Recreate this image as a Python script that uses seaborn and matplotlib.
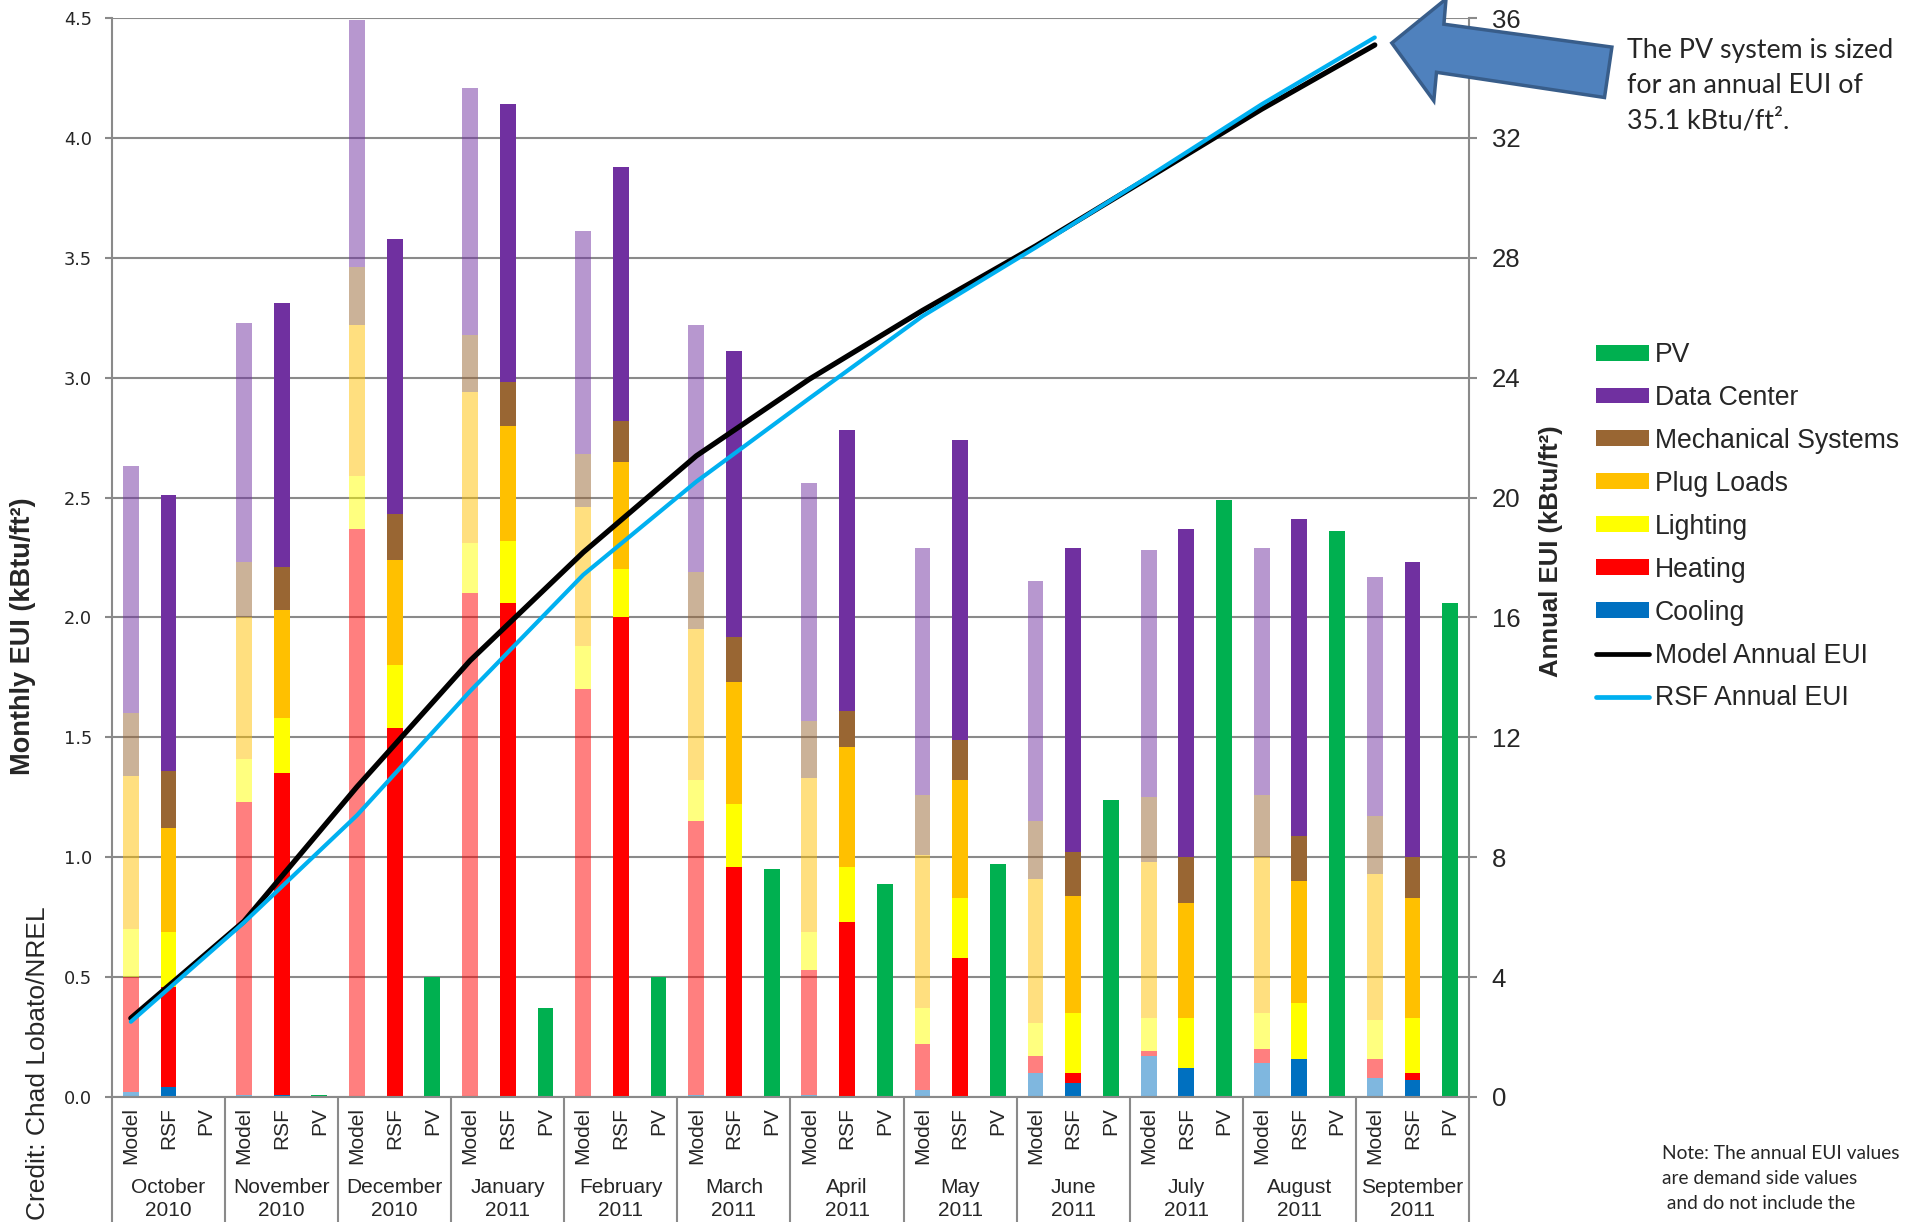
import numpy as np
import pandas as pd
import matplotlib
matplotlib.use("Agg")
import matplotlib.pyplot as plt
from matplotlib.patches import Patch, Polygon
from matplotlib.lines import Line2D
from matplotlib.transforms import blended_transform_factory
import seaborn as sns

# ---------------------------------------------------------------- data
months = ["October", "November", "December", "January", "February", "March",
          "April", "May", "June", "July", "August", "September"]
years = ["2010", "2010", "2010", "2011", "2011", "2011",
         "2011", "2011", "2011", "2011", "2011", "2011"]
kinds = ["Model", "RSF", "PV"]

# monthly end-use intensity, kBtu/ft² (energy model)
model_cooling = [0.02, 0.01, 0.00, 0.00, 0.00, 0.01, 0.01, 0.03, 0.10, 0.17, 0.14, 0.08]
model_heating = [0.48, 1.22, 2.37, 2.10, 1.70, 1.14, 0.52, 0.19, 0.07, 0.02, 0.06, 0.08]
model_lighting = [0.20, 0.18, 0.22, 0.21, 0.18, 0.17, 0.16, 0.15, 0.14, 0.14, 0.15, 0.16]
model_plug = [0.64, 0.59, 0.63, 0.63, 0.58, 0.63, 0.64, 0.64, 0.60, 0.65, 0.65, 0.61]
model_mech = [0.26, 0.23, 0.24, 0.24, 0.22, 0.24, 0.24, 0.25, 0.24, 0.27, 0.26, 0.24]
model_dc = [1.03, 1.00, 1.03, 1.03, 0.93, 1.03, 0.99, 1.03, 1.00, 1.03, 1.03, 1.00]

# monthly end-use intensity, kBtu/ft² (measured RSF)
rsf_cooling = [0.04, 0.01, 0.00, 0.00, 0.00, 0.00, 0.00, 0.00, 0.06, 0.12, 0.16, 0.07]
rsf_heating = [0.42, 1.34, 1.54, 2.06, 2.00, 0.96, 0.73, 0.58, 0.04, 0.00, 0.00, 0.03]
rsf_lighting = [0.23, 0.23, 0.26, 0.26, 0.20, 0.26, 0.23, 0.25, 0.25, 0.21, 0.23, 0.23]
rsf_plug = [0.43, 0.45, 0.44, 0.48, 0.45, 0.51, 0.50, 0.49, 0.49, 0.48, 0.51, 0.50]
rsf_mech = [0.24, 0.18, 0.19, 0.18, 0.17, 0.19, 0.15, 0.17, 0.18, 0.19, 0.19, 0.17]
rsf_dc = [1.15, 1.10, 1.15, 1.16, 1.06, 1.19, 1.17, 1.25, 1.27, 1.37, 1.32, 1.23]

# monthly PV production, kBtu/ft²
pv = [0.00, 0.01, 0.50, 0.37, 0.50, 0.95, 0.89, 0.97, 1.24, 2.49, 2.36, 2.06]

# running annual EUI, kBtu/ft²
model_annual = [2.63, 5.86, 10.35, 14.56, 18.17, 21.39, 23.95, 26.24, 28.39, 30.67, 32.96, 35.10]
rsf_annual = [2.51, 5.82, 9.40, 13.54, 17.42, 20.53, 23.31, 26.05, 28.34, 30.71, 33.12, 35.35]

layers = ["cooling", "heating", "lighting", "plug", "mech", "dc"]
layer_names = {"cooling": "Cooling", "heating": "Heating", "lighting": "Lighting",
               "plug": "Plug Loads", "mech": "Mechanical Systems", "dc": "Data Center"}
colors = {"cooling": "#0070C0", "heating": "#FF0000", "lighting": "#FFFF00",
          "plug": "#FFC000", "mech": "#996633", "dc": "#7030A0", "pv": "#00B050"}

# ---------------------------------------------------------------- table
model = dict(cooling=model_cooling, heating=model_heating, lighting=model_lighting,
             plug=model_plug, mech=model_mech, dc=model_dc)
rsf = dict(cooling=rsf_cooling, heating=rsf_heating, lighting=rsf_lighting,
           plug=rsf_plug, mech=rsf_mech, dc=rsf_dc)
rows = []
for i, m in enumerate(months):
    for k in kinds:
        row = {"slot": f"{m} {years[i]} {k}", "month": m, "kind": k}
        for L in layers:
            row[L] = model[L][i] if k == "Model" else rsf[L][i] if k == "RSF" else 0.0
        row["pv"] = pv[i] if k == "PV" else 0.0
        rows.append(row)
df = pd.DataFrame(rows)
slots = list(df["slot"])

# ---------------------------------------------------------------- style
sns.set_theme(style="white")
plt.rcParams["font.family"] = ["Liberation Sans", "DejaVu Sans"]
GRID = "#8a8a8a"

W, H = 1907, 1222
fig = plt.figure(figsize=(W / 100, H / 100), dpi=100)
ax = fig.add_axes([112 / W, 1 - 1097 / H, (1469 - 112) / W, 1079 / H])

# ---------------------------------------------------------------- stacked bars
BAR_W = 0.42
for kind, alpha in (("Model", 0.5), ("RSF", 1.0)):
    sub = df[df["kind"] == kind]
    bottom = np.zeros(len(sub))
    for L in layers:
        sns.barplot(data=sub, x="slot", y=L, order=slots, color=colors[L],
                    saturation=1, alpha=alpha, width=BAR_W, errorbar=None,
                    bottom=bottom.copy(), linewidth=0, ax=ax)
        bottom += sub[L].to_numpy()

sns.barplot(data=df[df["kind"] == "PV"], x="slot", y="pv", order=slots,
            color=colors["pv"], saturation=1, width=BAR_W, errorbar=None,
            linewidth=0, ax=ax)

ax.set_xlabel("")
ax.set_ylabel("")
ax.set_xlim(-0.5, len(slots) - 0.5)
ax.set_ylim(0, 4.5)

yt = np.arange(0, 4.51, 0.5)
ax.set_yticks(yt, labels=[f"{v:.1f}" for v in yt], fontfamily="DejaVu Sans", fontsize=12.8)
ax.yaxis.grid(True, color=GRID, linewidth=1.5)
ax.set_axisbelow(True)
ax.tick_params(axis="y", length=5, width=1.5, color=GRID, pad=9.5, left=True)

ax.set_xticks(range(len(slots)), labels=list(df["kind"]), rotation=90, fontsize=15)
ax.set_xticks(np.arange(-0.5, len(slots), 3), minor=True)
ax.tick_params(axis="x", which="major", length=0, pad=7)
ax.tick_params(axis="x", which="minor", length=95, width=1.5, color=GRID, bottom=True)

for s in ("top", "right"):
    ax.spines[s].set_visible(False)
for s in ("left", "bottom"):
    ax.spines[s].set_color(GRID)
    ax.spines[s].set_linewidth(1.5)

# month / year labels under each group of three bars
tr = blended_transform_factory(ax.transData, ax.transAxes)
for i, m in enumerate(months):
    ax.text(3 * i + 1, -(1199 - 1097) / 1079, f"{m}\n{years[i]}", transform=tr,
            ha="center", va="center", fontsize=15, linespacing=1.22,
            multialignment="center")

# ---------------------------------------------------------------- annual lines
ax2 = ax.twinx()
line_x = np.arange(len(months)) * 3
sns.lineplot(x=line_x, y=model_annual, ax=ax2, color="black", linewidth=3.8,
             solid_capstyle="round", legend=False)
sns.lineplot(x=line_x, y=rsf_annual, ax=ax2, color="#00B0F0", linewidth=3.0,
             solid_capstyle="round", legend=False)
ax2.set_ylim(0, 36)
ax2.set_yticks(np.arange(0, 37, 4))
ax2.tick_params(axis="y", length=5.8, width=1.5, color=GRID, pad=10.5,
                labelsize=18.5, right=True)
ax2.grid(False)
for s in ("top", "left", "bottom"):
    ax2.spines[s].set_visible(False)
ax2.spines["right"].set_color(GRID)
ax2.spines["right"].set_linewidth(1.5)
ax.set_xlim(-0.5, len(slots) - 0.5)

# ---------------------------------------------------------------- axis titles
fig.text(23 / W, 1 - 636 / H, "Monthly EUI (kBtu/ft²)", rotation=90,
         ha="center", va="center", fontsize=19.5, fontweight="bold")
fig.text(1551 / W, 1 - 551 / H, "Annual EUI (kBtu/ft²)", rotation=90,
         ha="center", va="center", fontsize=18.5, fontweight="bold")
fig.text(38 / W, 1 - 906 / H, "Credit: Chad Lobato/NREL", rotation=90,
         ha="center", va="top", fontsize=19)

# ---------------------------------------------------------------- legend
handles = [Patch(facecolor=colors["pv"], edgecolor="none")]
labels = ["PV"]
for L in ["dc", "mech", "plug", "lighting", "heating", "cooling"]:
    handles.append(Patch(facecolor=colors[L], edgecolor="none"))
    labels.append(layer_names[L])
handles += [Line2D([], [], color="black", linewidth=3.4, solid_capstyle="round"),
            Line2D([], [], color="#00B0F0", linewidth=3.4, solid_capstyle="round")]
labels += ["Model Annual EUI", "RSF Annual EUI"]
fig.legend(handles, labels, loc="upper left", bbox_to_anchor=(1596 / W, 1 - 342 / H),
           frameon=False, fontsize=19.2, handlelength=2.0, handleheight=0.54,
           handletextpad=0.2, labelspacing=0.635, borderpad=0, borderaxespad=0)

# ---------------------------------------------------------------- call-out arrow and notes
arrow_px = [(1391.8, 43), (1446, -1), (1443.9, 24.2), (1611.9, 47.1),
            (1604.5, 97.5), (1436.5, 72.3), (1433.8, 100.8)]
arrow = Polygon([(x / W, 1 - y / H) for x, y in arrow_px], closed=True,
                transform=fig.transFigure, facecolor="#4F81BD", edgecolor="#385D8A",
                linewidth=2.5, joinstyle="miter", zorder=5)
fig.add_artist(arrow)

fig.text(1627 / W, 1 - 38 / H, "The PV system is sized\nfor an annual EUI of\n35.1 kBtu/ft².",
         ha="left", va="top", fontsize=19.3, fontfamily="Lato", linespacing=1.52)
fig.text(1662 / W, 1 - 1145 / H,
         "Note: The annual EUI values\nare demand side values\n and do not include the",
         ha="left", va="top", fontsize=13.8, fontfamily="Lato", linespacing=1.57)

fig.savefig("out.png", dpi=100)
